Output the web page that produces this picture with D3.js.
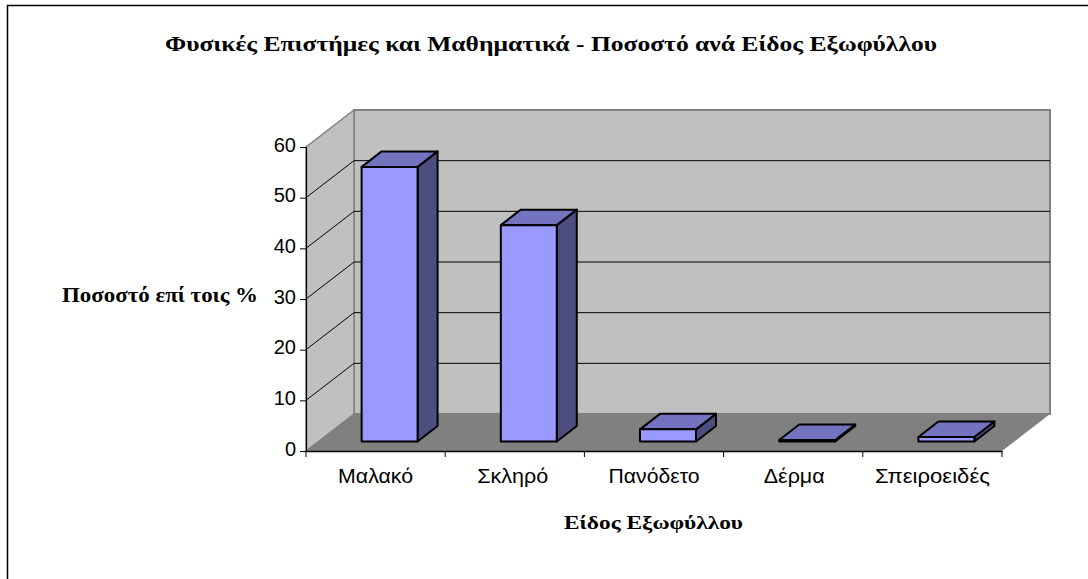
<!DOCTYPE html>
<html lang="el"><head><meta charset="utf-8">
<script src="https://cdn.jsdelivr.net/npm/d3@7"></script>
<style>html,body{margin:0;padding:0;background:#fff}svg{display:block}</style></head>
<body><svg id="c" width="1088" height="579"></svg>
<script>
const categories = ["Μαλακό","Σκληρό","Πανόδετο","Δέρμα","Σπειροειδές"];
const values = [54.2,42.7,2.4,0.3,0.9];
const yTicks = [0,10,20,30,40,50,60];
const titleText = "Φυσικές Επιστήμες και Μαθηματικά - Ποσοστό ανά Είδος Εξωφύλλου";
const xTitle = "Είδος Εξωφύλλου";
const yTitle = "Ποσοστό επί τοις %";

const svg = d3.select("#c");
const L=306,R=1002,B=451,T=147, DX=48, DY=-37;
const x = d3.scaleBand().domain(categories).range([L,R]).paddingInner(0.598).paddingOuter(0.299);
const y = d3.scaleLinear().domain([0,60]).range([B,T]);
const bdx=14,bdy=-9.5,cdx=20,cdy=-15.5;
const labelWidth=[75,71,91,61,115], labelNudge=[0,-2,0,1,0];
const poly=(pts)=>pts.map(p=>p.join(",")).join(" ");

svg.append("path").attr("d","M7.5,579V5.5H1088").attr("fill","none").attr("stroke","#000").attr("stroke-width",1.5);

svg.append("polygon").attr("points",poly([[L+DX,T+DY],[R+DX,T+DY],[R+DX,B+DY],[L+DX,B+DY]]))
  .attr("fill","#c0c0c0").attr("stroke","#808080").attr("stroke-width",2);
svg.append("polygon").attr("points",poly([[L,T],[L+DX,T+DY],[L+DX,B+DY],[L,B]]))
  .attr("fill","#c0c0c0").attr("stroke","#808080").attr("stroke-width",1.5);
svg.append("polygon").attr("points",poly([[L,B],[L+DX,B+DY],[R+DX,B+DY],[R,B]])).attr("fill","#808080");

yTicks.filter(d=>d>0&&d<60).forEach(d=>{
  svg.append("path").attr("d",`M${L},${y(d)}L${L+DX},${y(d)+DY}H${R+DX}`)
    .attr("fill","none").attr("stroke","#000").attr("stroke-width",1);
});

const g = svg.append("g").attr("stroke","#000").attr("stroke-width",2).attr("stroke-linejoin","round");
categories.forEach((c,i)=>{
  const x0=x(c)+bdx,x1=x0+x.bandwidth(),yb=y(0)+bdy,yt=y(values[i])+bdy;
  g.append("polygon").attr("points",poly([[x1,yt],[x1+cdx,yt+cdy],[x1+cdx,yb+cdy],[x1,yb]])).attr("fill","#4d4d80");
  g.append("polygon").attr("points",poly([[x0,yt],[x0+cdx,yt+cdy],[x1+cdx,yt+cdy],[x1,yt]])).attr("fill","#7373bf");
  g.append("rect").attr("x",x0).attr("y",yt).attr("width",x1-x0).attr("height",yb-yt).attr("fill","#9999ff");
});

const axY = svg.append("g").attr("transform",`translate(${L},0)`).call(d3.axisLeft(y).tickValues(yTicks).tickSize(6).tickPadding(4));
const axX = svg.append("g").attr("transform",`translate(0,${B})`).call(d3.axisBottom(x).tickValues(categories).tickSize(0));
axY.selectAll("path").attr("stroke","#000").attr("stroke-width",1.2);
axY.selectAll("line").attr("stroke","#000").attr("stroke-width",1);
axY.selectAll("text").attr("font-family","Liberation Sans").attr("font-size",20).attr("fill","#000").attr("dy","4.1px");
axX.select("path").attr("stroke","#000").attr("stroke-width",1.5);
axX.selectAll("text").attr("font-family","Liberation Sans").attr("font-size",20).attr("fill","#000").attr("y",18).attr("dy","0.71em")
  .attr("dx",(d,i)=>labelNudge[i]).attr("textLength",(d,i)=>labelWidth[i]).attr("lengthAdjust","spacingAndGlyphs");
d3.range(categories.length+1).forEach(i=>{
  const tx=x.step()*i+L;
  axX.append("line").attr("x1",tx).attr("x2",tx).attr("y1",0).attr("y2",6).attr("stroke","#000");
});

const serif=(t,a,b,s,w)=>svg.append("text").text(t).attr("x",a).attr("y",b).attr("font-family","Liberation Serif")
  .attr("font-weight","bold").attr("font-size",s).attr("fill","#000").attr("textLength",w).attr("lengthAdjust","spacingAndGlyphs");
serif(titleText,165,51,21,772);
serif(yTitle,62,302,20,196);
serif(xTitle,564,529,19.5,179);
</script></body></html>
